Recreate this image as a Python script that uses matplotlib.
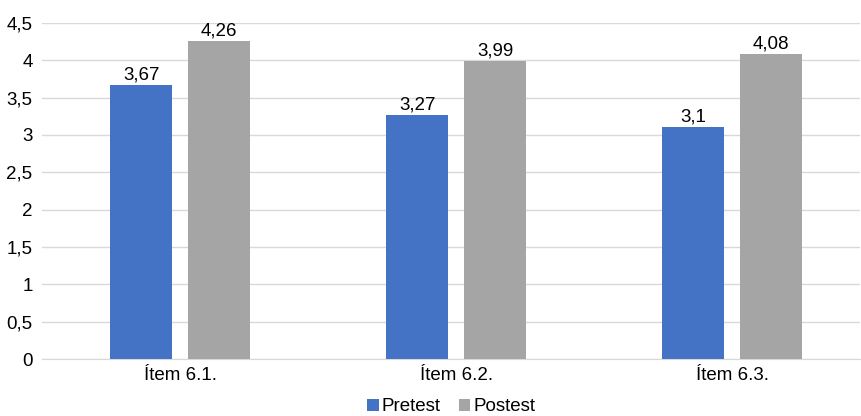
import matplotlib.pyplot as plt
import numpy as np

plt.rcParams['font.family'] = ['Liberation Sans', 'DejaVu Sans']

items = ["Ítem 6.1.", "Ítem 6.2.", "Ítem 6.3."]
pretest = [3.67, 3.27, 3.1]
postest = [4.26, 3.99, 4.08]

def comma(v):
    return f"{v:g}".replace(".", ",")

fig = plt.figure(figsize=(8.62, 4.16), dpi=100)
ax = fig.add_axes([0.049, 0.137, 0.949, 0.808])

x = np.arange(len(items))
w = 0.225
off = 0.141
fs = 13.5
b1 = ax.bar(x - off, pretest, w, color="#4472C4", label="Pretest", zorder=3)
b2 = ax.bar(x + off, postest, w, color="#A5A5A5", label="Postest", zorder=3)

for bars, vals in ((b1, pretest), (b2, postest)):
    for r, v in zip(bars, vals):
        ax.text(r.get_x() + r.get_width() / 2, v + 0.02, comma(v),
                ha="center", va="bottom", fontsize=fs, color="#000000")

ax.set_xlim(-0.5, 2.464)
ax.set_ylim(0, 4.5)
yt = np.arange(0, 4.51, 0.5)
ax.set_yticks(yt)
ax.set_yticklabels([comma(round(t, 1)) for t in yt], fontsize=fs)
ax.set_xticks(x)
ax.set_xticklabels(items, fontsize=fs)
ax.tick_params(length=0, pad=6)
ax.tick_params(axis="y", pad=7)
ax.grid(axis="y", color="#D9D9D9", linewidth=1, zorder=0)
for s in ["top", "right", "left"]:
    ax.spines[s].set_visible(False)
ax.spines["bottom"].set_color("#D9D9D9")

ax.legend(loc="upper center", bbox_to_anchor=(0.5, -0.095), ncol=2, frameon=False,
          fontsize=fs, handlelength=0.6, handleheight=0.6, handletextpad=0.15,
          columnspacing=1.0, borderaxespad=0)

fig.savefig("out.png", dpi=100)
